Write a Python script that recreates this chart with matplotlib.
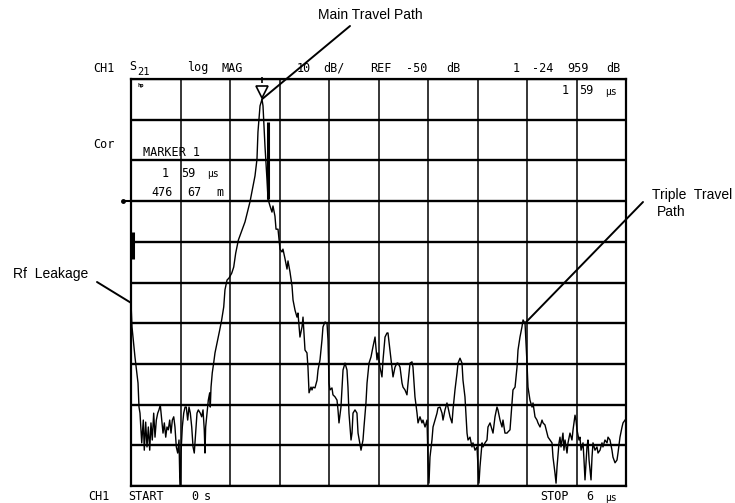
import numpy as np
import matplotlib
matplotlib.use("Agg")
import matplotlib.pyplot as plt
from matplotlib.transforms import offset_copy

# ---------------- data ----------------
time_us = [0.000, 0.012, 0.048, 0.085, 0.097, 0.109, 0.130, 0.149, 0.161, 0.178, 0.194, 0.210, 0.227, 0.242, 0.258,
           0.275, 0.291, 0.307, 0.324, 0.339, 0.355, 0.372, 0.388, 0.404, 0.421, 0.436, 0.452, 0.469, 0.485, 0.501,
           0.518, 0.533, 0.549, 0.566, 0.582, 0.590, 0.598, 0.606, 0.622, 0.639, 0.655, 0.670, 0.687, 0.703, 0.719,
           0.736, 0.752, 0.767, 0.784, 0.800, 0.816, 0.840, 0.857, 0.873, 0.888, 0.897, 0.905, 0.921, 0.937, 0.954,
           0.961, 0.970, 0.985, 1.002, 1.018, 1.051, 1.075, 1.099, 1.124, 1.139, 1.164, 1.188, 1.221, 1.245, 1.269,
           1.301, 1.382, 1.442, 1.503, 1.527, 1.539, 1.564, 1.588, 1.600, 1.624, 1.648, 1.661, 1.685, 1.709, 1.721,
           1.745, 1.758, 1.782, 1.794, 1.806, 1.830, 1.842, 1.867, 1.891, 1.903, 1.927, 1.952, 1.964, 1.988, 2.012,
           2.024, 2.048, 2.073, 2.085, 2.097, 2.109, 2.133, 2.145, 2.158, 2.182, 2.194, 2.206, 2.230, 2.255, 2.267,
           2.291, 2.315, 2.327, 2.352, 2.376, 2.388, 2.400, 2.412, 2.436, 2.448, 2.473, 2.497, 2.509, 2.521, 2.545,
           2.558, 2.570, 2.594, 2.618, 2.630, 2.642, 2.667, 2.679, 2.691, 2.715, 2.739, 2.752, 2.788, 2.812, 2.824,
           2.848, 2.861, 2.885, 2.909, 2.933, 2.958, 2.982, 2.994, 3.018, 3.042, 3.055, 3.079, 3.103, 3.115, 3.139,
           3.164, 3.176, 3.200, 3.224, 3.236, 3.261, 3.285, 3.297, 3.321, 3.345, 3.358, 3.382, 3.406, 3.418, 3.442,
           3.467, 3.479, 3.503, 3.527, 3.539, 3.564, 3.588, 3.600, 3.612, 3.624, 3.648, 3.661, 3.685, 3.709, 3.721,
           3.745, 3.770, 3.782, 3.806, 3.830, 3.842, 3.867, 3.891, 3.903, 3.927, 3.952, 3.964, 3.988, 4.012, 4.024,
           4.048, 4.073, 4.085, 4.109, 4.133, 4.145, 4.170, 4.194, 4.206, 4.218, 4.230, 4.255, 4.267, 4.291, 4.315,
           4.327, 4.352, 4.376, 4.388, 4.412, 4.436, 4.448, 4.473, 4.497, 4.509, 4.533, 4.558, 4.570, 4.594, 4.618,
           4.630, 4.655, 4.679, 4.691, 4.715, 4.739, 4.752, 4.776, 4.788, 4.800, 4.812, 4.836, 4.861, 4.873, 4.897,
           4.921, 4.933, 4.958, 4.982, 4.994, 5.018, 5.042, 5.055, 5.079, 5.103, 5.115, 5.139, 5.152, 5.164, 5.188,
           5.200, 5.212, 5.236, 5.248, 5.261, 5.285, 5.297, 5.321, 5.345, 5.358, 5.382, 5.394, 5.406, 5.430, 5.442,
           5.455, 5.479, 5.491, 5.503, 5.527, 5.539, 5.552, 5.576, 5.588, 5.600, 5.624, 5.648, 5.661, 5.685, 5.709,
           5.721, 5.745, 5.770, 5.782, 5.806, 5.830, 5.842, 5.867, 5.891, 5.903, 5.927, 5.952, 5.964, 5.988]

mag_db = [-75.0, -80.9, -88.3, -94.7, -100.6, -102.1, -109.4, -103.8, -111.2, -104.3, -110.4, -105.5, -111.2, -104.5, -108.7,
          -102.1, -108.0, -103.8, -102.1, -101.3, -100.1, -103.8, -107.0, -104.5, -108.0, -105.5, -106.2, -103.8, -107.0, -103.8,
          -103.0, -105.5, -110.4, -111.9, -108.7, -116.8, -119.8, -111.9, -105.5, -102.1, -100.6, -100.6, -103.8, -100.6, -102.1,
          -105.5, -110.4, -111.9, -107.0, -102.1, -101.3, -102.1, -103.0, -101.3, -106.2, -111.9, -105.5, -102.1, -98.9, -97.1,
          -100.6, -95.7, -92.2, -89.8, -87.3, -84.1, -81.7, -79.2, -76.0, -71.8, -69.4, -68.9, -67.7, -66.2, -62.8,
          -59.6, -55.1, -50.2, -43.8, -39.7, -33.0, -26.6, -24.96, -26.6, -36.5, -44.6, -49.5, -51.2, -52.7, -51.2,
          -53.7, -56.9, -56.9, -59.3, -61.8, -62.5, -61.8, -64.2, -66.7, -64.7, -67.4, -70.9, -74.3, -76.8, -78.5,
          -77.5, -83.4, -80.9, -78.5, -82.4, -86.6, -87.3, -90.8, -97.1, -95.7, -96.4, -95.7, -95.9, -94.0, -91.5,
          -89.0, -84.1, -80.9, -79.7, -80.0, -84.1, -94.7, -96.4, -95.9, -97.6, -98.1, -98.9, -101.3, -104.5, -100.6,
          -95.7, -91.5, -89.8, -91.5, -95.7, -102.1, -108.7, -107.0, -102.1, -101.3, -102.1, -107.0, -111.2, -108.7, -105.5,
          -99.6, -94.7, -89.8, -88.3, -85.8, -83.4, -89.0, -87.3, -90.8, -93.2, -89.0, -83.4, -82.4, -82.4, -86.6,
          -90.8, -93.2, -90.8, -89.8, -89.8, -90.8, -94.7, -95.7, -96.4, -97.6, -94.7, -89.8, -89.5, -90.8, -98.1,
          -102.1, -104.5, -103.0, -104.5, -103.8, -105.5, -103.8, -113.6, -119.3, -112.9, -108.7, -105.5, -103.8, -102.1, -100.8,
          -100.6, -102.1, -103.8, -101.3, -99.6, -100.6, -103.0, -104.5, -101.3, -96.4, -92.2, -89.8, -88.6, -89.8, -94.0,
          -98.1, -107.0, -108.7, -108.0, -110.4, -109.4, -111.2, -110.4, -115.3, -119.3, -115.3, -109.4, -110.4, -109.4, -108.7,
          -105.5, -104.5, -106.2, -107.0, -103.0, -100.6, -101.3, -103.8, -105.5, -103.8, -107.0, -107.0, -106.7, -106.2, -99.6,
          -96.4, -95.7, -90.8, -86.6, -83.4, -80.9, -79.2, -80.0, -84.9, -89.8, -95.7, -98.9, -100.6, -99.6, -103.0,
          -103.8, -104.5, -105.5, -103.8, -104.5, -105.0, -107.0, -108.0, -108.7, -109.4, -112.9, -116.8, -119.3, -115.3, -109.4,
          -108.0, -110.4, -107.0, -111.2, -108.7, -111.9, -109.4, -107.0, -108.7, -106.2, -102.6, -103.8, -106.2, -108.7, -108.0,
          -111.2, -109.4, -113.6, -118.5, -110.4, -108.7, -113.6, -118.5, -112.9, -109.4, -111.2, -110.4, -111.9, -111.2, -109.4,
          -110.4, -108.7, -109.4, -108.0, -108.7, -111.2, -112.9, -114.3, -113.6, -111.9, -108.0, -105.5, -104.5, -103.8]

start_us, stop_us = 0.0, 6.0
ref_db, scale_db = -50.0, 10.0
top_db, bottom_db = -20.0, -120.0

marker_t, marker_db = 1.588, -24.96
leak_t, leak_db = 0.0, -75.0
triple_t, triple_db = 4.776, -80.0

# short vertical marker bars seen on the display
bar_t = [0.02, 1.661]
bar_lo = [-64.3, -49.5]
bar_hi = [-57.6, -30.6]

# ---------------- figure ----------------
W, H = 735, 503
fig = plt.figure(figsize=(W / 100, H / 100), dpi=100)
fig.patch.set_facecolor("white")

def fp(x, y):
    return (x / W, 1 - y / H)

ax = fig.add_axes([131 / W, 1 - 486 / H, 495 / W, 407 / H])
ax.set_xlim(start_us, stop_us)
ax.set_ylim(bottom_db, top_db)
ax.set_xticks(np.linspace(start_us, stop_us, 11))
ax.set_yticks(np.arange(bottom_db, top_db + 1, scale_db))
ax.tick_params(length=0, labelbottom=False, labelleft=False)
ax.xaxis.grid(True, color="black", lw=1.1)
ax.yaxis.grid(True, color="black", lw=1.7)
ax.set_axisbelow(True)
for s in ax.spines.values():
    s.set_linewidth(1.6)
    s.set_color("black")

ax.plot(time_us, mag_db, color="black", lw=1.0, zorder=3)

for bt, lo, hi in zip(bar_t, bar_lo, bar_hi):
    ax.plot([bt, bt], [lo, hi], color="black", lw=2.2, solid_capstyle="butt", zorder=3)

# reference level indicator
ax.plot([-0.1, 0.0], [ref_db, ref_db], color="black", lw=1.5, clip_on=False)
ax.plot([-0.1], [ref_db], marker="o", ms=2.5, color="black", clip_on=False)

# marker triangle
tri_tr = offset_copy(ax.transData, fig=fig, x=0, y=5.5, units="points")
ax.plot([marker_t], [marker_db], marker="v", ms=9, mfc="white", mec="black", mew=1.2,
        transform=tri_tr, clip_on=False, zorder=4)
stem_tr = offset_copy(ax.transData, fig=fig, x=0, y=14, units="points")
ax.plot([marker_t], [marker_db], marker="|", ms=5, mec="black", mew=1.2,
        transform=stem_tr, clip_on=False, zorder=4)

# ---------------- annotations ----------------
ann_font = dict(family="Liberation Sans", fontsize=10, color="black")
fig.text(*fp(318, 15), "Main Travel Path", ha="left", va="center", **ann_font)
fig.text(*fp(88, 274), "Rf  Leakage", ha="right", va="center", **ann_font)
fig.text(*fp(652, 195), "Triple  Travel", ha="left", va="center", **ann_font)
fig.text(*fp(657, 212), "Path", ha="left", va="center", **ann_font)

line_kw = dict(arrowstyle="-", color="black", lw=1.4, shrinkA=0, shrinkB=0)
ax.annotate("", xy=(marker_t, marker_db), xycoords="data",
            xytext=(350, H - 26), textcoords="figure pixels", arrowprops=line_kw)
ax.annotate("", xy=(leak_t, leak_db), xycoords="data",
            xytext=(97, H - 282), textcoords="figure pixels", arrowprops=line_kw)
ax.annotate("", xy=(triple_t, triple_db), xycoords="data",
            xytext=(643, H - 202), textcoords="figure pixels", arrowprops=line_kw)

# ---------------- instrument texts ----------------
mono = dict(family="DejaVu Sans Mono", fontsize=8.5, color="black")
def mt(x, y, s, **kw):
    d = dict(mono)
    d.update(kw)
    fig.text(*fp(x, y), s, ha="left", va="center", **d)

mt(93, 68, "CH1")
mt(129, 67, "S")
mt(137, 72, "21", fontsize=7.5)
mt(187, 68, "log")
mt(222, 68, "MAG")
mt(297, 68, "10")
mt(323, 68, "dB/")
mt(370, 68, "REF")
mt(406, 68, "-50")
mt(446, 68, "dB")
mt(513, 68, "1")
mt(532, 68, "-24")
mt(567, 68, "959")
mt(606, 68, "dB")

mt(562, 91, "1")
mt(579, 91, "59")
mt(605, 92, "µs", fontsize=7)

mt(137, 86, "hp", fontsize=4, fontweight="bold")
mt(93, 144, "Cor")
mt(143, 152, "MARKER 1")
mt(162, 173, "1")
mt(181, 173, "59")
mt(207, 174, "µs", fontsize=7)
mt(151, 193, "476")
mt(187, 193, "67")
mt(216, 193, "m")

mt(88, 497, "CH1")
mt(128, 497, "START")
mt(191, 497, "0")
mt(204, 497, "s")
mt(540, 497, "STOP")
mt(586, 497, "6")
mt(605, 498, "µs", fontsize=7)

fig.savefig("out.png", dpi=100, facecolor="white")
